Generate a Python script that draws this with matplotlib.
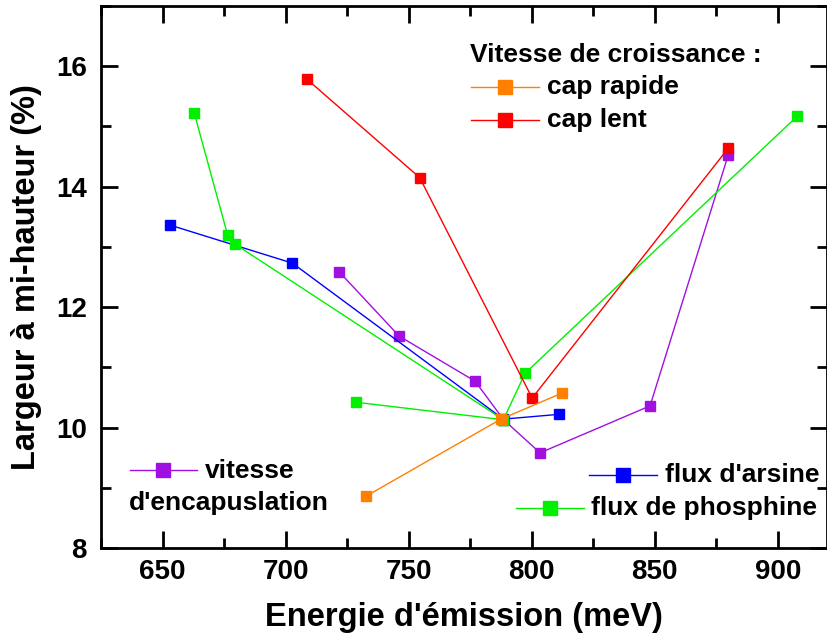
import matplotlib
matplotlib.use("Agg")
import matplotlib.pyplot as plt
from matplotlib.ticker import MultipleLocator

plt.rcParams['font.family'] = ['Liberation Sans', 'DejaVu Sans']
plt.rcParams['font.weight'] = 'bold'
plt.rcParams['axes.labelweight'] = 'bold'

# donnees (meV, %)
rapide_x = [732.7, 787.5, 812.2]
rapide_y = [8.86, 10.14, 10.57]

lent_x = [708.8, 754.5, 800.2, 879.9]
lent_y = [15.78, 14.15, 10.49, 14.64]

arsine_x = [653.2, 702.8, 788.5, 811.2]
arsine_y = [13.36, 12.73, 10.14, 10.22]

phos_x = [662.9, 676.5, 679.3, 788.5, 797.3, 907.9]
phos_y = [15.22, 13.19, 13.05, 10.13, 10.90, 15.17]
phos2_x = [728.6, 788.5]
phos2_y = [10.42, 10.13]

encap_x = [721.7, 746.1, 777.0, 788.6, 803.4, 848.1, 879.9]
encap_y = [12.59, 11.52, 10.77, 10.13, 9.58, 10.36, 14.53]

c_orange = '#FF8000'
c_red = '#FF0000'
c_blue = '#0000FF'
c_green = '#00F000'
c_purple = '#A010E0'

W, H = 828, 642
fig = plt.figure(figsize=(W / 100, H / 100), dpi=100)
ax = fig.add_axes([101 / W, 1 - 548 / H, 726 / W, 542 / H])

ms = 7
lw = 1.0
ax.plot(encap_x, encap_y, '-s', color=c_purple, ms=ms, lw=lw)
ax.plot(arsine_x, arsine_y, '-s', color=c_blue, ms=ms, lw=lw)
ax.plot(phos_x, phos_y, '-s', color=c_green, ms=ms, lw=lw)
ax.plot(phos2_x, phos2_y, '-s', color=c_green, ms=ms, lw=lw)
ax.plot(lent_x, lent_y, '-s', color=c_red, ms=ms, lw=lw)
ax.plot(rapide_x, rapide_y, '-s', color=c_orange, ms=ms, lw=lw)

ax.set_xlim(625, 920)
ax.set_ylim(8, 17)
ax.xaxis.set_major_locator(MultipleLocator(50))
ax.xaxis.set_minor_locator(MultipleLocator(25))
ax.yaxis.set_major_locator(MultipleLocator(2))
ax.yaxis.set_minor_locator(MultipleLocator(1))
ax.tick_params(which='both', direction='in', top=True, right=True, width=2,
               labelsize=20)
ax.tick_params(which='major', length=12, pad=8)
ax.tick_params(which='minor', length=7)
ax.tick_params(axis='y', pad=10)
for s in ax.spines.values():
    s.set_linewidth(2)

ax.set_xlabel("Energie d'émission (meV)", fontsize=23.5, labelpad=12)
ax.set_ylabel("Largeur à mi-hauteur (%)", fontsize=23.5, labelpad=10)


def px(x, y):
    return x / W, 1 - y / H


def handle(x0, x1, y, color):
    fig.add_artist(plt.Line2D([x0 / W, x1 / W], [1 - y / H, 1 - y / H],
                              color=color, lw=lw))
    xm = (x0 + x1) / 2
    fig.add_artist(plt.Line2D([xm / W], [1 - y / H], marker='s', ms=9.5,
                              color=color, lw=0))


fs = 19
fig.text(*px(470, 55), "Vitesse de croissance :", fontsize=fs, va='center')
handle(471, 539, 87, c_orange)
fig.text(*px(547, 87), "cap rapide", fontsize=fs, va='center')
handle(471, 539, 120, c_red)
fig.text(*px(547, 120), "cap lent", fontsize=fs, va='center')

handle(130, 197, 470, c_purple)
fig.text(*px(205, 471), "vitesse", fontsize=fs, va='center')
fig.text(*px(129, 503), "d'encapuslation", fontsize=fs, va='center')

handle(589, 657, 475, c_blue)
fig.text(*px(665, 475), "flux d'arsine", fontsize=fs, va='center')
handle(516, 584, 508, c_green)
fig.text(*px(591, 508), "flux de phosphine", fontsize=fs, va='center')

fig.savefig("out.png", dpi=100)
